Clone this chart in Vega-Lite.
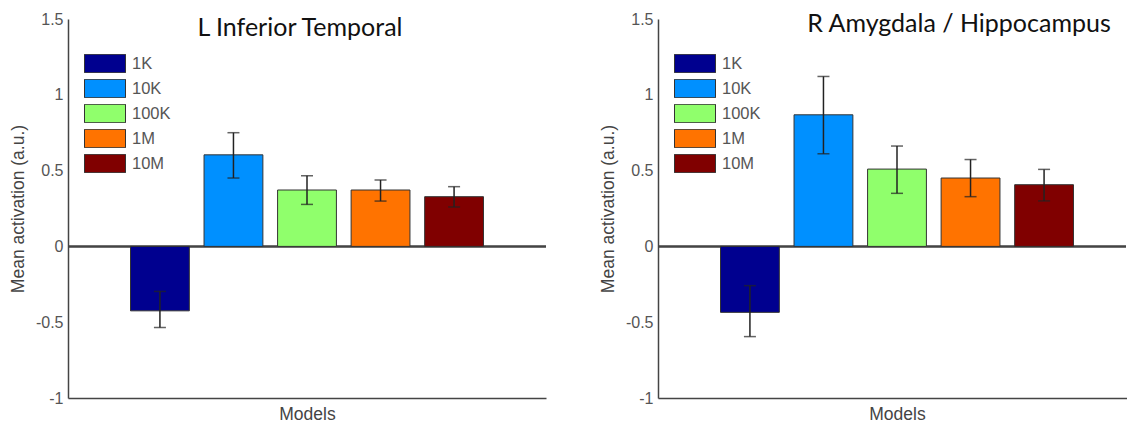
{
  "$schema": "https://vega.github.io/schema/vega-lite/v6.json",
  "background": "white",
  "padding": {"left": 9, "top": 11, "right": 0, "bottom": 0},
  "spacing": 52,
  "config": {
    "view": {"stroke": null},
    "font": "Liberation Sans",
    "axis": {"grid": false, "ticks": false, "domainColor": "#444", "domainWidth": 1.5, "labelColor": "#555", "labelFont": "Liberation Sans", "labelFontSize": 16, "labelPadding": 5, "titleFont": "Liberation Sans", "titleFontSize": 17.5, "titleFontWeight": "normal", "titleColor": "#444"},
    "title": {"font": "Lato", "fontSize": 25, "fontWeight": "normal", "color": "#111"},
    "legend": {"title": null, "orient": "none", "legendX": 16, "legendY": 35, "symbolType": "M-1,-0.45L1,-0.45L1,0.45L-1,0.45Z", "symbolSize": 1681, "symbolStrokeColor": "#333", "symbolStrokeWidth": 1, "symbolOpacity": 1, "labelFont": "Liberation Sans", "labelFontSize": 16.5, "labelColor": "#555", "labelOffset": 6, "rowPadding": 6, "padding": 0, "clipHeight": 19}
  },
  "datasets": {
    "bars": [
      {"panel": "L", "model": "1K", "value": -0.425, "lo": -0.535, "hi": -0.297},
      {"panel": "L", "model": "10K", "value": 0.604, "lo": 0.451, "hi": 0.75},
      {"panel": "L", "model": "100K", "value": 0.372, "lo": 0.277, "hi": 0.466},
      {"panel": "L", "model": "1M", "value": 0.372, "lo": 0.299, "hi": 0.438},
      {"panel": "L", "model": "10M", "value": 0.328, "lo": 0.26, "hi": 0.394},
      {"panel": "R", "model": "1K", "value": -0.435, "lo": -0.595, "hi": -0.259},
      {"panel": "R", "model": "10K", "value": 0.868, "lo": 0.611, "hi": 1.121},
      {"panel": "R", "model": "100K", "value": 0.51, "lo": 0.35, "hi": 0.662},
      {"panel": "R", "model": "1M", "value": 0.451, "lo": 0.328, "hi": 0.573},
      {"panel": "R", "model": "10M", "value": 0.407, "lo": 0.3, "hi": 0.508}
    ]
  },
  "resolve": {"scale": {"color": "independent", "y": "independent", "x": "independent"}, "legend": {"color": "independent"}},
  "hconcat": [
    {
      "width": 478,
      "height": 379,
      "title": {"text": "L Inferior Temporal", "offset": -30, "dx": -7},
      "data": {"name": "bars"},
      "transform": [{"filter": "datum.panel == 'L'"}],
      "layer": [
        {
          "mark": {"type": "rule", "color": "#444", "strokeWidth": 1.5},
          "encoding": {"y": {"datum": 0, "type": "quantitative", "scale": {"domain": [-1, 1.5], "nice": false, "zero": false}}}
        },
        {
          "mark": {"type": "bar", "stroke": "#333", "strokeWidth": 1},
          "encoding": {
            "x": {"field": "model", "type": "nominal", "sort": ["1K", "10K", "100K", "1M", "10M"], "scale": {"paddingInner": 0.2, "paddingOuter": 0.85}, "axis": {"title": "Models", "labels": false, "titlePadding": 7}},
            "y": {"field": "value", "type": "quantitative", "scale": {"domain": [-1, 1.5], "nice": false, "zero": false}, "axis": {"title": "Mean activation (a.u.)", "values": [-1, -0.5, 0, 0.5, 1, 1.5], "labelExpr": "'' + datum.value", "titlePadding": 8}},
            "color": {"field": "model", "type": "nominal", "sort": ["1K", "10K", "100K", "1M", "10M"], "scale": {"domain": ["1K", "10K", "100K", "1M", "10M"], "range": ["#00008f", "#0090ff", "#90ff6c", "#ff7300", "#800000"]}}
          }
        },
        {
          "mark": {"type": "rule", "color": "#222", "strokeWidth": 1.5},
          "encoding": {
            "x": {"field": "model", "type": "nominal", "sort": ["1K", "10K", "100K", "1M", "10M"]},
            "y": {"field": "lo", "type": "quantitative"},
            "y2": {"field": "hi"}
          }
        },
        {
          "mark": {"type": "tick", "color": "#222", "thickness": 1.5, "size": 12},
          "encoding": {
            "x": {"field": "model", "type": "nominal", "sort": ["1K", "10K", "100K", "1M", "10M"]},
            "y": {"field": "lo", "type": "quantitative"}
          }
        },
        {
          "mark": {"type": "tick", "color": "#222", "thickness": 1.5, "size": 12},
          "encoding": {
            "x": {"field": "model", "type": "nominal", "sort": ["1K", "10K", "100K", "1M", "10M"]},
            "y": {"field": "hi", "type": "quantitative"}
          }
        }
      ]
    },
    {
      "width": 468,
      "height": 379,
      "title": {"text": "R Amygdala / Hippocampus", "offset": -30, "dx": 67, "dy": -4},
      "data": {"name": "bars"},
      "transform": [{"filter": "datum.panel == 'R'"}],
      "layer": [
        {
          "mark": {"type": "rule", "color": "#444", "strokeWidth": 1.5},
          "encoding": {"y": {"datum": 0, "type": "quantitative", "scale": {"domain": [-1, 1.5], "nice": false, "zero": false}}}
        },
        {
          "mark": {"type": "bar", "stroke": "#333", "strokeWidth": 1},
          "encoding": {
            "x": {"field": "model", "type": "nominal", "sort": ["1K", "10K", "100K", "1M", "10M"], "scale": {"paddingInner": 0.2, "paddingOuter": 0.85, "range": [0, 478]}, "axis": {"title": "Models", "labels": false, "titlePadding": 7}},
            "y": {"field": "value", "type": "quantitative", "scale": {"domain": [-1, 1.5], "nice": false, "zero": false}, "axis": {"title": "Mean activation (a.u.)", "values": [-1, -0.5, 0, 0.5, 1, 1.5], "labelExpr": "'' + datum.value", "titlePadding": 8}},
            "color": {"field": "model", "type": "nominal", "sort": ["1K", "10K", "100K", "1M", "10M"], "scale": {"domain": ["1K", "10K", "100K", "1M", "10M"], "range": ["#00008f", "#0090ff", "#90ff6c", "#ff7300", "#800000"]}}
          }
        },
        {
          "mark": {"type": "rule", "color": "#222", "strokeWidth": 1.5},
          "encoding": {
            "x": {"field": "model", "type": "nominal", "sort": ["1K", "10K", "100K", "1M", "10M"]},
            "y": {"field": "lo", "type": "quantitative"},
            "y2": {"field": "hi"}
          }
        },
        {
          "mark": {"type": "tick", "color": "#222", "thickness": 1.5, "size": 12},
          "encoding": {
            "x": {"field": "model", "type": "nominal", "sort": ["1K", "10K", "100K", "1M", "10M"]},
            "y": {"field": "lo", "type": "quantitative"}
          }
        },
        {
          "mark": {"type": "tick", "color": "#222", "thickness": 1.5, "size": 12},
          "encoding": {
            "x": {"field": "model", "type": "nominal", "sort": ["1K", "10K", "100K", "1M", "10M"]},
            "y": {"field": "hi", "type": "quantitative"}
          }
        }
      ]
    }
  ]
}
